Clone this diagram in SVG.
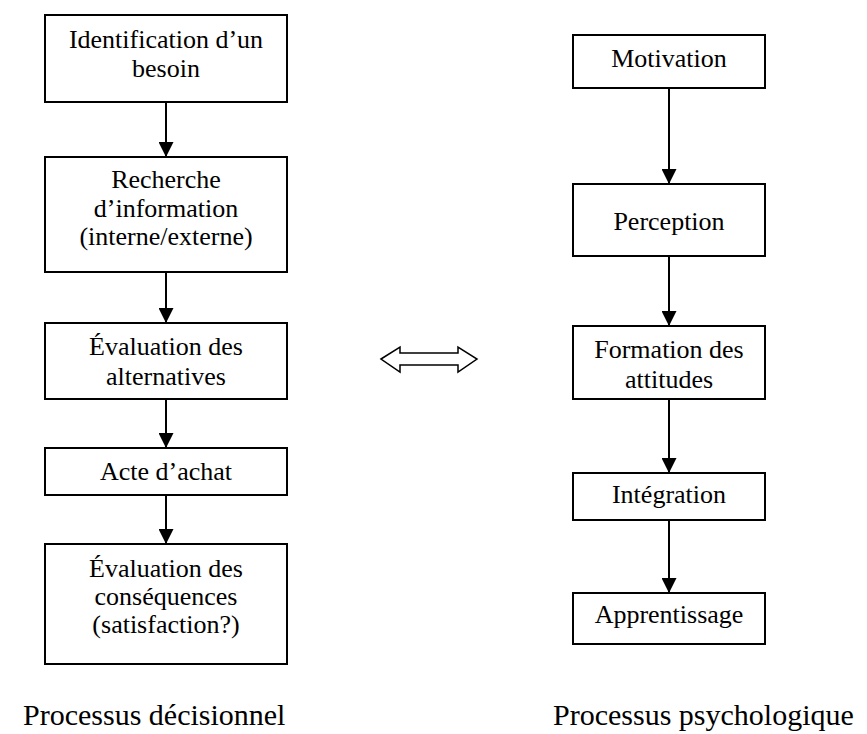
<svg xmlns="http://www.w3.org/2000/svg" width="867" height="734" viewBox="0 0 867 734">
<defs>
<style>
.box{fill:#fff;stroke:#000;stroke-width:2}
.t{font-family:"Liberation Serif","Times New Roman",serif;font-size:26px;fill:#000;text-anchor:middle}
.lbl{font-family:"Liberation Serif","Times New Roman",serif;font-size:30px;fill:#000}
.con{stroke:#000;stroke-width:2;fill:none;marker-end:url(#ah)}
</style>
<marker id="ah" viewBox="0 0 15 15" refX="15" refY="7.5" markerWidth="15" markerHeight="15" markerUnits="userSpaceOnUse" orient="auto">
<path d="M0,0 L15,7.5 L0,15 Z" fill="#000"/>
</marker>
</defs>
<rect width="867" height="734" fill="#fff"/>
<g id="connectors">
<line class="con" x1="166" y1="102" x2="166" y2="157"/>
<line class="con" x1="166" y1="272" x2="166" y2="323"/>
<line class="con" x1="166" y1="399" x2="166" y2="448"/>
<line class="con" x1="166" y1="495" x2="166" y2="544"/>
<line class="con" x1="669" y1="88" x2="669" y2="184"/>
<line class="con" x1="669" y1="256" x2="669" y2="326"/>
<line class="con" x1="669" y1="399" x2="669" y2="473"/>
<line class="con" x1="669" y1="520" x2="669" y2="593"/>
<polygon points="381,359 400,347 400,353 458,353 458,347 477,359 458,372 458,365 400,365 400,372" fill="#fff" stroke="#000" stroke-width="1.5"/>
</g>
<g id="n1"><rect class="box" x="45" y="15" width="242" height="87"/><text class="t" x="166" y="48">Identification d’un</text><text class="t" x="166" y="77">besoin</text></g>
<g id="n2"><rect class="box" x="45" y="157" width="242" height="115"/><text class="t" x="166" y="188">Recherche</text><text class="t" x="166" y="217">d’information</text><text class="t" x="166" y="245">(interne/externe)</text></g>
<g id="n3"><rect class="box" x="45" y="323" width="242" height="76"/><text class="t" x="166" y="355">Évaluation des</text><text class="t" x="166" y="385">alternatives</text></g>
<g id="n4"><rect class="box" x="45" y="448" width="242" height="47"/><text class="t" x="166" y="480">Acte d’achat</text></g>
<g id="n5"><rect class="box" x="45" y="544" width="242" height="120"/><text class="t" x="166" y="577">Évaluation des</text><text class="t" x="166" y="605">conséquences</text><text class="t" x="166" y="633">(satisfaction?)</text></g>
<g id="m1"><rect class="box" x="573" y="35" width="192" height="53"/><text class="t" x="669" y="67">Motivation</text></g>
<g id="m2"><rect class="box" x="573" y="184" width="192" height="72"/><text class="t" x="669" y="230">Perception</text></g>
<g id="m3"><rect class="box" x="573" y="326" width="192" height="73"/><text class="t" x="669" y="358">Formation des</text><text class="t" x="669" y="388">attitudes</text></g>
<g id="m4"><rect class="box" x="573" y="473" width="192" height="47"/><text class="t" x="669" y="503">Intégration</text></g>
<g id="m5"><rect class="box" x="573" y="593" width="192" height="51"/><text class="t" x="669" y="623">Apprentissage</text></g>
<g id="labels">
<text class="lbl" x="23" y="725">Processus décisionnel</text>
<text class="lbl" x="553" y="725">Processus psychologique</text>
</g>
</svg>
